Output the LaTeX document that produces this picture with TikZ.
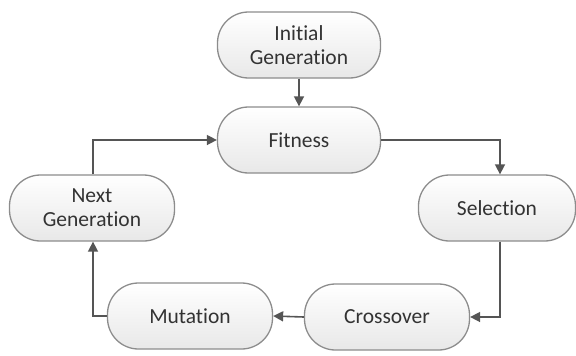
\documentclass[tikz,border=0pt]{standalone}
\usepackage{fontspec}
\setmainfont[Ligatures=NoCommon]{Carlito}
\usetikzlibrary{arrows.meta,positioning}
\definecolor{boxline}{HTML}{8C8C8C}
\definecolor{linkc}{HTML}{555555}
\definecolor{txt}{HTML}{333333}
\begin{document}
\begin{tikzpicture}[x=1pt,y=-1pt,
  stadium/.style={draw=boxline, line width=1.3pt, rounded corners=31pt,
    top color=white, bottom color=black!9, minimum width=163pt, minimum height=66pt,
    align=center, inner sep=0pt, text=txt, font=\fontsize{21.5}{24}\selectfont},
  link/.style={draw=linkc, line width=1.6pt, -{Triangle[length=10pt,width=10pt]}}]
\useasboundingbox (0,0) rectangle (576,356);
\node[stadium] (init) at (299,45) {Initial\\Generation};
\node[stadium] (fit) at (299,140) {Fitness};
\node[stadium, minimum width=157pt] (sel) at (497,208) {Selection};
\node[stadium, minimum width=165pt] (cross) at (387,317) {Crossover};
\node[stadium, minimum width=165pt] (mut) at (190,316) {Mutation};
\node[stadium, minimum width=165pt] (next) at (92,208) {Next\\Generation};
\coordinate (c1) at (500,140);
\coordinate (c2) at (500,317);
\coordinate (c3) at (93,316);
\coordinate (c4) at (93,140);
\draw[link] (init) -- (fit);
\draw[link] (fit.east) -- (c1) -- (sel.north -| c1);
\draw[link] (sel.south -| c2) -- (c2) -- (cross.east);
\draw[link] (cross.west) -- (mut.east);
\draw[link] (mut.west) -- (c3) -- (next.south -| c3);
\draw[link] (next.north -| c4) -- (c4) -- (fit.west);
\end{tikzpicture}
\end{document}
